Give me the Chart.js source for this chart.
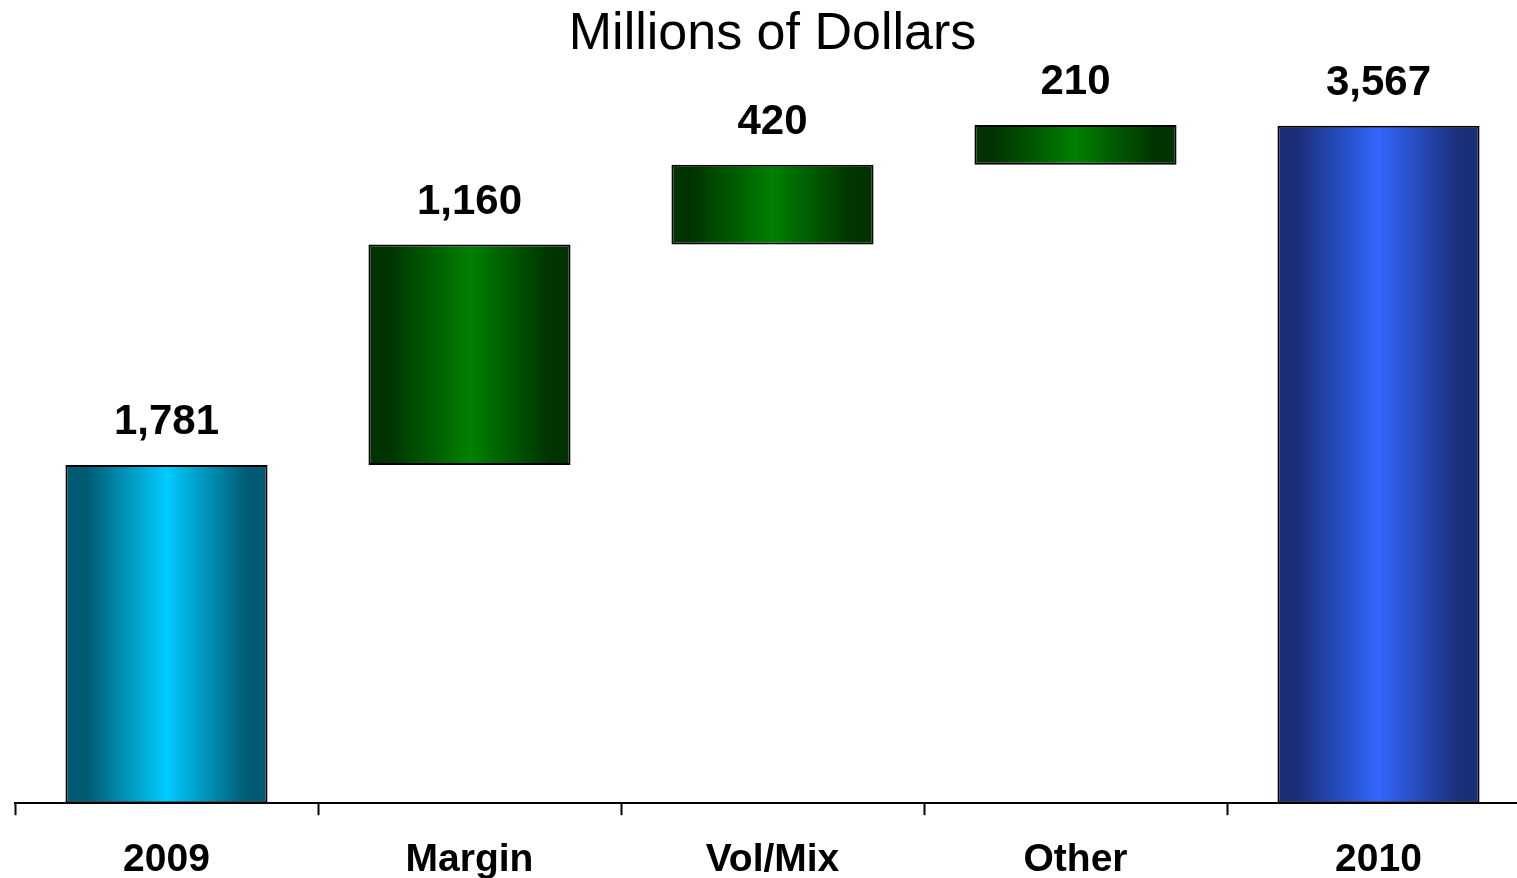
<!DOCTYPE html>
<html>
<head>
<meta charset="utf-8">
<title>Millions of Dollars</title>
<script src="https://cdn.jsdelivr.net/npm/chart.js@4.4.1/dist/chart.umd.min.js"></script>
<style>
  html, body { margin: 0; padding: 0; background: #fff; overflow: hidden; }
  #wrap { position: relative; width: 1530px; height: 906px; }
</style>
</head>
<body>
<div id="wrap"><canvas id="bridge"></canvas></div>
<script>
// bridge from 2009 to 2010
const categories = ['2009', 'Margin', 'Vol/Mix', 'Other', '2010'];
const steps = [1781, 1160, 420, 210, 3567];
const isTotal = [true, false, false, false, true];

// floating [start, end] pairs built from the steps
let running = 0;
const spans = steps.map((v, i) => {
    if (isTotal[i]) { running = v; return [0, v]; }
    const s = [running, running + v];
    running += v;
    return s;
});

const BAR_PCT = 0.667;

// edge / middle colours for each bar
const shades = [
    ['#005a72', '#00ccff'],
    ['#003300', '#008000'],
    ['#003300', '#008000'],
    ['#003300', '#008000'],
    ['#1a2f78', '#3366ff']
];

function barFill(ctx) {
    const chart = ctx.chart;
    const xs = chart.scales.x;
    if (!xs || !chart.chartArea) return shades[ctx.dataIndex][1];
    const cx = xs.getPixelForValue(ctx.dataIndex);
    const half = xs.width / categories.length * BAR_PCT / 2;
    const g = chart.ctx.createLinearGradient(cx - half, 0, cx + half, 0);
    const [edge, mid] = shades[ctx.dataIndex];
    g.addColorStop(0, edge);
    g.addColorStop(0.1, edge);
    g.addColorStop(0.5, mid);
    g.addColorStop(0.9, edge);
    g.addColorStop(1, edge);
    return g;
}

// value over each bar
const valueLabels = {
    id: 'valueLabels',
    afterDatasetsDraw(chart) {
        const c = chart.ctx;
        const meta = chart.getDatasetMeta(0);
        c.save();
        c.font = 'bold 42px Arial, "Liberation Sans", sans-serif';
        c.fillStyle = '#000';
        c.textAlign = 'center';
        c.textBaseline = 'alphabetic';
        meta.data.forEach((bar, i) => {
            c.fillText(steps[i].toLocaleString('en-US'), bar.x, bar.y - 31);
        });
        c.restore();
    }
};

new Chart(document.getElementById('bridge'), {
    type: 'bar',
    data: {
        labels: categories,
        datasets: [{
            data: spans,
            backgroundColor: barFill,
            borderColor: '#000',
            borderWidth: 2,
            borderSkipped: false,
            barPercentage: BAR_PCT,
            categoryPercentage: 1
        }]
    },
    options: {
        responsive: true,
        maintainAspectRatio: false,
        animation: false,
        layout: { padding: { left: 15, right: 0, top: 0, bottom: 0 } },
        plugins: {
            legend: { display: false },
            tooltip: { enabled: false },
            title: {
                display: true,
                text: 'Millions of Dollars',
                color: '#000',
                font: { family: 'Arial, "Liberation Sans", sans-serif', size: 52, weight: 'normal', lineHeight: 1.2 },
                padding: { top: 3, bottom: 16 }
            }
        },
        scales: {
            x: {
                offset: true,
                border: { display: true, color: '#000', width: 2 },
                grid: {
                    offset: true,
                    drawOnChartArea: false,
                    drawTicks: true,
                    tickLength: 12,
                    tickWidth: 2,
                    tickColor: '#000'
                },
                ticks: {
                    color: '#000',
                    padding: 22,
                    maxRotation: 0,
                    font: { family: 'Arial, "Liberation Sans", sans-serif', size: 39, weight: 'bold', lineHeight: 1.2 }
                }
            },
            y: {
                display: false,
                min: 0,
                max: 3800
            }
        }
    },
    plugins: [valueLabels]
});
</script>
</body>
</html>
